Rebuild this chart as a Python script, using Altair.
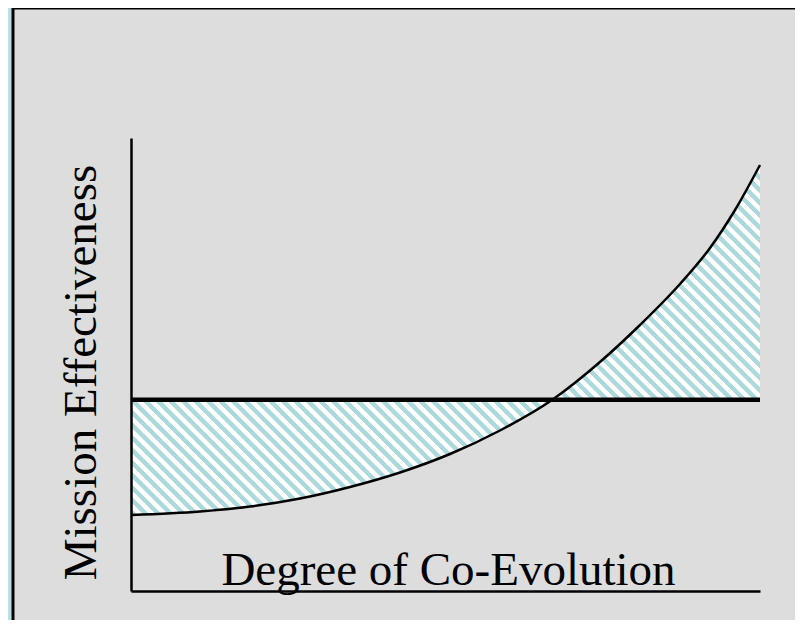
import altair as alt
import pandas as pd

# ---- data (x: degree of co-evolution, y: effectiveness, both 0-100) ----
x_vals = [0, 10.97, 18.92, 26.87, 34.82, 42.77, 50.72, 58.66, 66.93, 74.56, 80.92, 87.28, 92.05, 96.03, 100]
curve_vals = [16.78, 17.55, 18.65, 20.42, 22.96, 26.16, 30.24, 35.43, 42.16, 50.55, 58.72, 67.77, 75.72, 84.11, 94.04]
baseline_level = 42.2

x_title = "Degree of Co-Evolution"
y_title = "Mission Effectiveness"

# ---- layout / style ----
W, H = 629, 453
FONT = "Liberation Serif"
FSIZE = 47
BLUE_BG = "#b9e0e4"
GRAY = "#dddddd"
STRIPE = "#abd9dc"

df = pd.DataFrame({"x": x_vals, "curve": curve_vals, "base": [baseline_level] * len(x_vals)})

# hatch built as a hard-stop linear gradient over the area's bounding box
lo = min(min(curve_vals), baseline_level)
hi = max(max(curve_vals), baseline_level)
bw = W
bh = (hi - lo) / 100.0 * H
R = bw + bh
c = R / (bw ** 2 + bh ** 2)
P = 12.5
band = 0.5 * P
ramp = 0.8
stops = []
k = 0
while k * P < R:
    a = k * P
    for off, col in [(a, "#ffffff"), (a + ramp, STRIPE), (a + band, STRIPE), (a + band + ramp, "#ffffff")]:
        if off <= R:
            stops.append(alt.GradientStop(offset=off / R, color=col))
    k += 1
stops.append(alt.GradientStop(offset=1.0, color="#ffffff"))
hatch = alt.Gradient(gradient="linear", stops=stops, x1=0, y1=1, x2=c * bw, y2=1 - c * bh)

xs = alt.Scale(domain=[0, 100], nice=False, zero=False)
ys = alt.Scale(domain=[0, 100], nice=False, zero=False)

x_axis = alt.Axis(
    title=x_title, labels=False, ticks=False, grid=False, domain=True,
    domainColor="black", domainWidth=2.5, zindex=1,
    titleFont=FONT, titleFontSize=FSIZE, titleFontWeight="normal", titleColor="black",
    titleX=317, titleY=-7, titleAlign="center", titleBaseline="alphabetic", titleAngle=0,
)
y_axis = alt.Axis(
    title=y_title, labels=False, ticks=False, grid=False, domain=True,
    domainColor="black", domainWidth=2.5, zindex=1,
    titleFont=FONT, titleFontSize=FSIZE, titleFontWeight="normal", titleColor="black",
    titleX=-36, titleY=234, titleAlign="center", titleBaseline="alphabetic", titleAngle=270,
)

frame = alt.Chart(pd.DataFrame({"f": [0]})).mark_rect(
    fill=GRAY, stroke="black", strokeWidth=3
).encode(x=alt.value(-118), x2=alt.value(800), y=alt.value(-130), y2=alt.value(700))

area = alt.Chart(df).mark_area(fill=hatch, interpolate="monotone").encode(
    x=alt.X("x:Q", scale=xs, axis=x_axis),
    y=alt.Y("curve:Q", scale=ys, axis=y_axis),
    y2="base:Q",
)

rule = alt.Chart(pd.DataFrame({"b": [baseline_level]})).mark_rule(
    color="black", strokeWidth=4.5
).encode(y=alt.Y("b:Q", scale=ys, axis=y_axis))

line = alt.Chart(df).mark_line(color="black", strokeWidth=2.5, interpolate="monotone").encode(
    x=alt.X("x:Q", scale=xs, axis=x_axis),
    y=alt.Y("curve:Q", scale=ys, axis=y_axis),
)

chart = alt.layer(frame, area, rule, line).properties(
    width=W, height=H,
    padding={"left": 123, "top": 130, "right": 35, "bottom": 29},
    autosize=alt.AutoSizeParams(type="none"),
    background=BLUE_BG,
).configure_view(stroke=None)

chart.save("out.html", embed_options={"renderer": "svg", "actions": False})
